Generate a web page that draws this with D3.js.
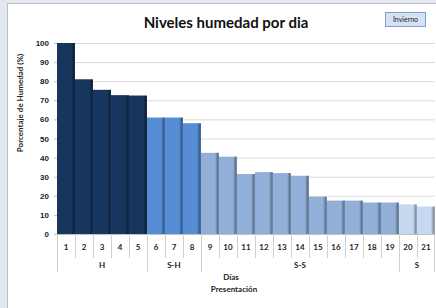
<!DOCTYPE html>
<html>
<head>
<meta charset="utf-8">
<script src="https://cdn.jsdelivr.net/npm/d3@7"></script>
<style>
  body { margin: 0; background: #e3e7ee; }
  svg { display: block; font-family: Lato, "Open Sans", sans-serif; }
</style>
</head>
<body>
<div id="chart"></div>
<script>
// data
const days = ["1","2","3","4","5","6","7","8","9","10","11","12","13","14","15","16","17","18","19","20","21"];
const humidity = [100, 81, 75.5, 72.7, 72.5, 61, 61, 58, 42.5, 40.5, 31.4, 32.4, 31.9, 30.5, 19.5, 17.5, 17.5, 16.5, 16.5, 15.5, 14.4];
const dayGroup = ["H","H","H","H","H","S-H","S-H","S-H","S-S","S-S","S-S","S-S","S-S","S-S","S-S","S-S","S-S","S-S","S-S","S","S"];
const groupNames = ["H", "S-H", "S-S", "S"];
const groupColors = ["#17365d", "#558ed5", "#92afd8", "#c6d9f1"];
const yTicks = [0, 10, 20, 30, 40, 50, 60, 70, 80, 90, 100];

const width = 436, height = 308;
const margin = {top: 43, right: 1, bottom: 74, left: 57};
const fs = 8;

const svg = d3.select("#chart").append("svg")
    .attr("width", width)
    .attr("height", height);

// chart panel
svg.append("rect")
    .attr("x", 7.5).attr("y", 3.5)
    .attr("width", width).attr("height", height)
    .attr("fill", "#fff")
    .attr("stroke", "#b8bec8");

const x = d3.scaleBand()
    .domain(days)
    .range([margin.left, width - margin.right])
    .padding(0);

const y = d3.scaleLinear()
    .domain([0, 100])
    .range([height - margin.bottom, margin.top]);

// bar shading, darker strip at the right edge
const defs = svg.append("defs");
groupNames.forEach((g, i) => {
    const c = d3.color(groupColors[i]);
    const grad = defs.append("linearGradient")
        .attr("id", "grad" + i)
        .attr("x1", 0).attr("x2", 1).attr("y1", 0).attr("y2", 0);
    grad.append("stop").attr("offset", "0%").attr("stop-color", c.formatHex());
    grad.append("stop").attr("offset", "78%").attr("stop-color", c.formatHex());
    grad.append("stop").attr("offset", "92%").attr("stop-color", c.darker(1.1).formatHex());
    grad.append("stop").attr("offset", "100%").attr("stop-color", c.darker(0.6).formatHex());
});

// gridlines
svg.append("g")
    .attr("transform", `translate(${margin.left},0)`)
    .call(d3.axisLeft(y).tickValues(yTicks).tickSize(-(width - margin.left - margin.right)).tickFormat(""))
    .call(g => g.select(".domain").remove())
    .call(g => g.selectAll(".tick line").attr("stroke", "#d9d9d9"));

// y axis labels
svg.append("g")
    .attr("transform", `translate(${margin.left},0)`)
    .call(d3.axisLeft(y).tickValues(yTicks).tickSize(3).tickPadding(5))
    .call(g => g.select(".domain").attr("stroke", "#bfbfbf"))
    .call(g => g.selectAll(".tick line").attr("stroke", "#bfbfbf"))
    .call(g => g.selectAll(".tick text")
        .attr("fill", "#222")
        .attr("font-size", fs)
        .attr("font-weight", "bold"));

// bars
svg.append("g")
    .selectAll("rect")
    .data(days)
    .join("rect")
    .attr("x", d => x(d))
    .attr("y", (d, i) => y(humidity[i]))
    .attr("width", x.bandwidth())
    .attr("height", (d, i) => y(0) - y(humidity[i]))
    .attr("fill", (d, i) => `url(#grad${groupNames.indexOf(dayGroup[i])})`);

// x axis: category ticks and group ticks
const base = y(0);
const xa = svg.append("g");
xa.append("line")
    .attr("x1", margin.left).attr("x2", width - margin.right)
    .attr("y1", base + 0.5).attr("y2", base + 0.5)
    .attr("stroke", "#bfbfbf");

const groupStarts = days.filter((d, i) => i === 0 || dayGroup[i] !== dayGroup[i - 1]);
xa.selectAll("line.cat")
    .data(days)
    .join("line")
    .attr("class", "cat")
    .attr("x1", d => Math.round(x(d)) + 0.5)
    .attr("x2", d => Math.round(x(d)) + 0.5)
    .attr("y1", base)
    .attr("y2", d => groupStarts.includes(d) ? base + 38 : base + 24)
    .attr("stroke", "#d0d0d0");
xa.append("line")
    .attr("x1", width - margin.right - 0.5).attr("x2", width - margin.right - 0.5)
    .attr("y1", base).attr("y2", base + 38)
    .attr("stroke", "#d0d0d0");

xa.selectAll("text.cat")
    .data(days)
    .join("text")
    .attr("class", "cat")
    .attr("x", d => x(d) + x.bandwidth() / 2)
    .attr("y", base + 16)
    .attr("text-anchor", "middle")
    .attr("font-size", fs)
    .attr("font-weight", "bold")
    .attr("fill", "#222")
    .text(d => d);

const groups = groupNames.map(g => {
    const ds = days.filter((d, i) => dayGroup[i] === g);
    return {name: g, x0: x(ds[0]), x1: x(ds[ds.length - 1]) + x.bandwidth()};
});
xa.selectAll("text.grp")
    .data(groups)
    .join("text")
    .attr("class", "grp")
    .attr("x", d => (d.x0 + d.x1) / 2)
    .attr("y", base + 34)
    .attr("text-anchor", "middle")
    .attr("font-size", fs)
    .attr("font-weight", "bold")
    .attr("fill", "#222")
    .text(d => d.name);

// axis titles
svg.append("text")
    .attr("x", 231).attr("y", base + 46)
    .attr("text-anchor", "middle")
    .attr("font-size", fs).attr("font-weight", "bold").attr("fill", "#222")
    .text("Días");
svg.append("text")
    .attr("x", 234).attr("y", base + 58)
    .attr("text-anchor", "middle")
    .attr("font-size", fs).attr("font-weight", "bold").attr("fill", "#222")
    .text("Presentación");
svg.append("text")
    .attr("transform", "translate(23,103) rotate(-90)")
    .attr("text-anchor", "middle")
    .attr("font-size", fs).attr("font-weight", "bold").attr("fill", "#222")
    .text("Porcentaje de Humedad (%)");

// title
svg.append("text")
    .attr("x", 226).attr("y", 28)
    .attr("text-anchor", "middle")
    .attr("font-size", 15).attr("font-weight", "bold").attr("fill", "#111")
    .text("Niveles humedad por dia");

// legend button
const lg = svg.append("g").attr("transform", "translate(385,12)");
lg.append("rect")
    .attr("x", 0.5).attr("y", 0.5)
    .attr("width", 40).attr("height", 14)
    .attr("fill", "#d6e2f3").attr("stroke", "#7f9fcf");
lg.append("text")
    .attr("x", 20.5).attr("y", 10)
    .attr("text-anchor", "middle")
    .attr("font-size", 7).attr("fill", "#1a1a1a")
    .text("Invierno");
</script>
</body>
</html>
